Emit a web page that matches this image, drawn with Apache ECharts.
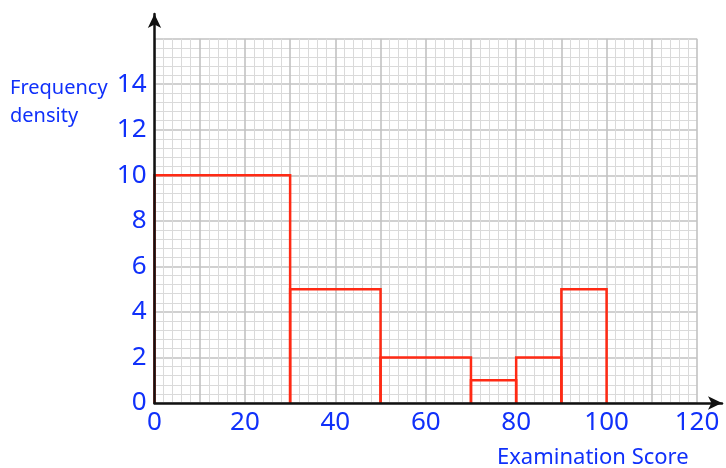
<!DOCTYPE html>
<html><head><meta charset="utf-8">
<script src="https://cdn.jsdelivr.net/npm/echarts@6/dist/echarts.min.js"></script>
<style>html,body{margin:0;padding:0;background:#fff}#c{width:726px;height:468px}</style>
</head><body><div id="c"></div>
<script>
const binStarts = [0, 30, 50, 70, 80, 90];
const binEnds = [30, 50, 70, 80, 90, 100];
const densities = [10, 5, 2, 1, 2, 5];
const xTickLabels = [0, 20, 40, 60, 80, 100, 120];
const yTickLabels = [0, 2, 4, 6, 8, 10, 12, 14];
const xTitle = 'Examination Score';
const yTitle = 'Frequency\ndensity';

const blue = '#1030fa';
const font = '"Comic Sans MS", "Noto Sans", sans-serif';
const chart = echarts.init(document.getElementById('c'));
const data = binStarts.map((s, i) => [s, binEnds[i], densities[i]]);

chart.setOption({
  animation: false,
  grid: [
    {left: 154.5, right: 29, top: 38.7, bottom: 65},
    {left: 154.5, right: 4, top: 14, bottom: 65}
  ],
  xAxis: [
    {gridIndex: 0, type: 'value', min: 0, max: 120, interval: 10,
     axisLine: {show: false}, axisTick: {show: false},
     axisLabel: {color: blue, fontSize: 26, fontFamily: font, margin: 7,
       formatter: v => xTickLabels.indexOf(v) >= 0 ? String(v) : ''},
     splitLine: {show: true, lineStyle: {color: '#c2c2c2', width: 1.6}},
     minorTick: {show: false, splitNumber: 5},
     minorSplitLine: {show: true, lineStyle: {color: '#dadada', width: 1}}},
    {gridIndex: 1, type: 'value', min: 0, max: 1, show: true, z: 10,
     axisLine: {show: true, lineStyle: {color: '#111', width: 2.5}, symbol: ['none', 'arrow'], symbolSize: [10, 14]},
     axisTick: {show: false}, axisLabel: {show: false}, splitLine: {show: false}}
  ],
  yAxis: [
    {gridIndex: 0, type: 'value', min: 0, max: 16, interval: 2,
     axisLine: {show: false}, axisTick: {show: false},
     axisLabel: {color: blue, fontSize: 26, fontFamily: font, margin: 8,
       formatter: v => yTickLabels.indexOf(v) >= 0 ? String(v) : ''},
     splitLine: {show: true, lineStyle: {color: '#c2c2c2', width: 1.6}},
     minorTick: {show: false, splitNumber: 5},
     minorSplitLine: {show: true, lineStyle: {color: '#dadada', width: 1}}},
    {gridIndex: 1, type: 'value', min: 0, max: 1, show: true, z: 10,
     axisLine: {show: true, lineStyle: {color: '#111', width: 2.5}, symbol: ['none', 'arrow'], symbolSize: [10, 14]},
     axisTick: {show: false}, axisLabel: {show: false}, splitLine: {show: false}}
  ],
  graphic: [
    {type: 'text', left: 10, top: 74, style: {text: yTitle, fill: blue, font: '20px ' + font, lineHeight: 28}},
    {type: 'text', left: 497, top: 447, style: {text: xTitle, fill: blue, font: '22px ' + font}}
  ],
  series: [{
    type: 'custom', xAxisIndex: 0, yAxisIndex: 0, z: 5,
    data: data,
    renderItem: (params, api) => {
      const a = api.coord([api.value(0), 0]);
      const b = api.coord([api.value(0), api.value(2)]);
      const c = api.coord([api.value(1), api.value(2)]);
      const d = api.coord([api.value(1), 0]);
      return {type: 'polyline', shape: {points: [a, b, c, d]},
        style: {stroke: '#ff2a14', lineWidth: 2.5, fill: 'none'}};
    }
  }]
});
</script></body></html>
